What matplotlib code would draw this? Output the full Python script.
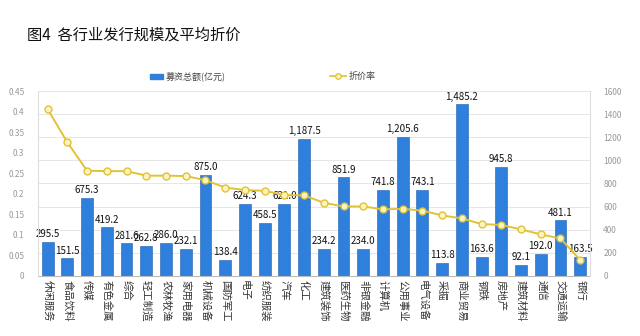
import matplotlib
matplotlib.use("Agg")
import matplotlib.pyplot as plt
from matplotlib.ticker import FixedLocator
from matplotlib.patches import Rectangle
from matplotlib.lines import Line2D

plt.rcParams['font.family'] = ['Noto Sans CJK SC', 'DejaVu Sans']

categories = ["休闲服务", "食品饮料", "传媒", "有色金属", "综合", "轻工制造", "农林牧渔", "家用电器",
              "机械设备", "国防军工", "电子", "纺织服装", "汽车", "化工", "建筑装饰", "医药生物",
              "非银金融", "计算机", "公用事业", "电气设备", "采掘", "商业贸易", "钢铁", "房地产",
              "建筑材料", "通信", "交通运输", "银行"]
amounts = [295.5, 151.5, 675.3, 419.2, 281.6, 262.8, 286.0, 232.1, 875.0, 138.4, 624.3, 458.5,
           621.0, 1187.5, 234.2, 851.9, 234.0, 741.8, 1205.6, 743.1, 113.8, 1485.2, 163.6, 945.8,
           92.1, 192.0, 481.1, 163.5]
discount = [0.406, 0.325, 0.256, 0.255, 0.255, 0.244, 0.244, 0.243, 0.233, 0.215, 0.209, 0.207,
            0.197, 0.196, 0.178, 0.169, 0.169, 0.162, 0.163, 0.159, 0.147, 0.140, 0.126, 0.124,
            0.113, 0.101, 0.091, 0.0385]
left_ticks = [0, 0.05, 0.1, 0.15, 0.2, 0.25, 0.3, 0.35, 0.4, 0.45]
left_labels = ["0", "0.05", "0.1", "0.15", "0.2", "0.25", "0.3", "0.35", "0.4", "0.45"]
right_ticks = [0, 200, 400, 600, 800, 1000, 1200, 1400, 1600]

fig = plt.figure(figsize=(6.4, 3.36), dpi=100)
ax = fig.add_axes([0.059, 0.179, 0.863, 0.550])
axl = ax.twinx()

x = list(range(len(categories)))
bar_color = "#2f7fdc"
bars = ax.bar(x, amounts, width=0.6, color=bar_color, edgecolor="#1f5fb0", linewidth=0.4, zorder=2)
labels = [f"{v:,.1f}" for v in amounts]
ax.bar_label(bars, labels=labels, padding=2, fontsize=7, color="#111111")
ax.set_ylim(0, 1600)
ax.set_xlim(-0.5, len(categories) - 0.5)
ax.yaxis.set_major_locator(FixedLocator(right_ticks))
ax.set_yticklabels([str(t) for t in right_ticks])
ax.set_xticks(x)
ax.set_xticklabels(categories, rotation=270, fontsize=7.5, color="#333333")
ax.tick_params(axis='x', length=0, pad=3)
for s in ["top", "left", "right"]:
    ax.spines[s].set_visible(False)
ax.spines["bottom"].set_color("#bbbbbb")
for t in right_ticks[1:]:
    ax.axhline(t, color="#e6e6e6", linewidth=0.7, zorder=0)

axl.plot(x, discount, color="#e2c236", linewidth=1.4, marker="o", markersize=5,
         markerfacecolor="#fbf3c0", markeredgecolor="#e2c236", markeredgewidth=1.0, zorder=3)
axl.set_ylim(0, 0.45)
axl.set_yticks(left_ticks)
axl.set_yticklabels(left_labels)
for s in ["top", "bottom"]:
    axl.spines[s].set_visible(False)
axl.spines["left"].set_visible(True)
axl.spines["left"].set_color("#dddddd")
axl.spines["right"].set_color("#dddddd")

axl.yaxis.tick_left()
axl.yaxis.set_label_position("left")
ax.yaxis.tick_right()
ax.tick_params(axis='y', which='both', labelleft=False, labelright=True, left=False, right=False,
               labelsize=6, colors="#999999", pad=6)
axl.tick_params(axis='y', which='both', labelleft=True, labelright=False, left=False, right=False,
                labelsize=6, colors="#999999", pad=6)

fig.text(0.042, 0.895, "图4  各行业发行规模及平均折价", fontsize=11, color="#111111", va="center")

# legend
fig.patches.append(Rectangle((0.235, 0.766), 0.02, 0.014, transform=fig.transFigure, color=bar_color))
fig.text(0.259, 0.773, "募资总额(亿元)", fontsize=6.5, color="#444444", va="center")
fig.lines.append(Line2D([0.516, 0.54], [0.773, 0.773], transform=fig.transFigure, color="#e2c236",
                        linewidth=1.2))
fig.lines.append(Line2D([0.528], [0.773], transform=fig.transFigure, color="#e2c236", marker="o",
                        markersize=4, markerfacecolor="#fbf3c0", markeredgewidth=0.9))
fig.text(0.544, 0.773, "折价率", fontsize=6.5, color="#444444", va="center")

fig.savefig("out.png", dpi=100)
